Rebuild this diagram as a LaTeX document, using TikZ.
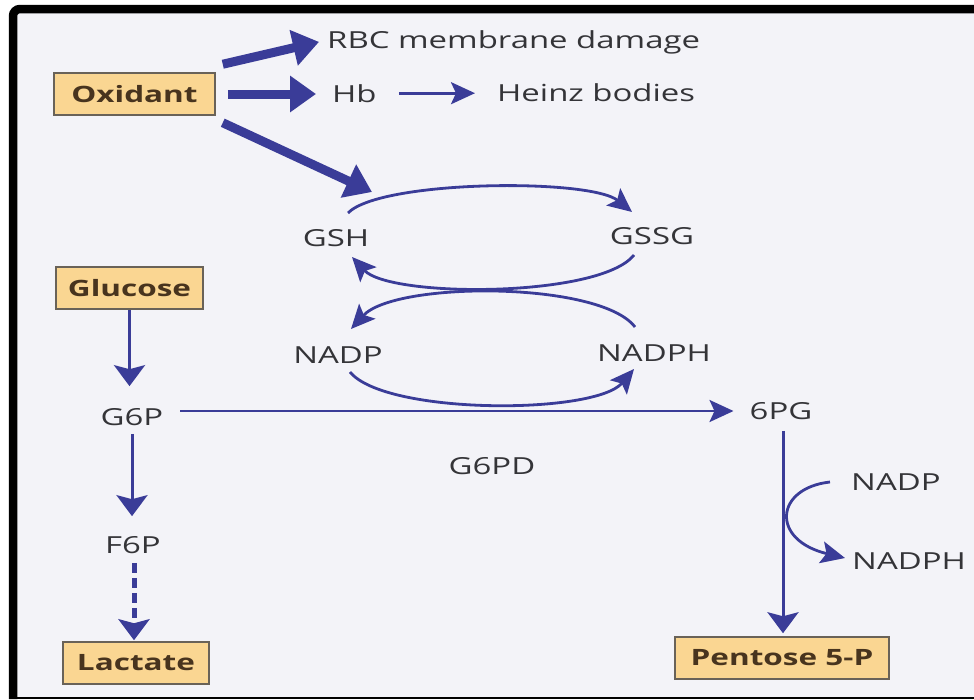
\documentclass[tikz,border=0pt]{standalone}
\usepackage{fontspec}
\setmainfont[FakeStretch=1.4]{Open Sans}
\usetikzlibrary{arrows.meta,calc}
\definecolor{navy}{RGB}{58,60,152}
\definecolor{boxfill}{RGB}{250,214,146}
\definecolor{boxline}{RGB}{105,98,88}
\definecolor{ink}{RGB}{52,52,56}
\definecolor{boxink}{RGB}{72,52,30}
\definecolor{paper}{RGB}{243,243,248}
\begin{document}
\begin{tikzpicture}[x=1pt,y=-1pt,
  lbl/.style={inner sep=0pt, text=ink, font=\fontsize{23.5}{28}\selectfont},
  boxnode/.style={draw=boxline, line width=1.5pt, fill=boxfill, text=boxink,
    font=\fontsize{22.5}{26}\selectfont\bfseries, minimum height=42pt, inner sep=0pt},
  bigarrow/.style={draw=navy, line width=9pt, -{Triangle[length=26pt,width=35pt]}},
  thinarrow/.style={draw=navy, line width=2.8pt, -{Stealth[length=24pt,width=22pt,inset=5pt]}},
  vertarrow/.style={draw=navy, line width=3pt, -{Stealth[length=21pt,width=31pt,inset=4pt]}},
  dasharrow/.style={draw=navy, line width=5pt, dash pattern=on 10pt off 5pt,
    -{Stealth[length=21pt,width=31pt,inset=4pt]}},
]
\useasboundingbox (0,0) rectangle (974,699);
% page and frame
\fill[white] (0,0) rectangle (974,699);
\fill[paper] (13,9) rectangle (974,697);
\draw[line width=8.5pt, rounded corners=7pt] (974,9) -- (13,9) -- (13,699);
\draw[line width=2pt] (13,697.5) -- (974,697.5);

% boxed metabolites
\node[boxnode, minimum width=161pt] (oxidant) at (134.5,94) {Oxidant};
\node[boxnode, minimum width=147pt] (glucose) at (129.5,288) {Glucose};
\node[boxnode, minimum width=146pt] (lactate) at (136,663) {Lactate};
\node[boxnode, minimum width=214pt] (pentose) at (782,658) {Pentose 5-P};

% plain labels
\node[lbl, anchor=base west] (rbc) at (327,48) {RBC membrane damage};
\node[lbl, anchor=base west] (hb) at (332,102) {Hb};
\node[lbl, anchor=base west] (heinz) at (497,101) {Heinz bodies};
\node[lbl] (gsh) at (336,238) {GSH};
\node[lbl] (gssg) at (652,236) {GSSG};
\node[lbl] (nadp) at (338,355) {NADP};
\node[lbl] (nadph) at (654,353) {NADPH};
\node[lbl] (g6p) at (132,417) {G6P};
\node[lbl] (pg) at (781,411) {6PG};
\node[lbl] (g6pd) at (492,466) {G6PD};
\node[lbl] (f6p) at (133,545) {F6P};
\node[lbl, anchor=west] (nadpr) at (851,482) {NADP};
\node[lbl, anchor=west] (nadphr) at (852,561) {NADPH};

% oxidant effects
\draw[bigarrow] ($(oxidant.north east)+(7,-8)$) -- ($(rbc.west)+(-8,0)$);
\draw[bigarrow] ($(oxidant.east)+(12,0)$) -- ($(oxidant.east -| hb.west)+(-16,0)$);
\draw[bigarrow] ($(oxidant.south east)+(7,7)$) -- ($(gsh)+(36,-46)$);
\draw[thinarrow] ($(hb.east)+(22,0)$) -- ($(hb.east -| heinz.west)+(-22,0)$);

% glutathione and NADP cycles
\draw[thinarrow] ($(gsh)+(12,-25)$) .. controls ($(gsh)+(44,-58)$) and ($(gssg)+(-62,-58)$) .. ($(gssg)+(-20,-24)$);
\draw[thinarrow] ($(gssg)+(-18,19)$) .. controls ($(gssg)+(-52,62)$) and ($(gsh)+(54,60)$) .. ($(gsh)+(16,19)$);
\draw[thinarrow] ($(nadph)+(-19,-26)$) .. controls ($(nadph)+(-54,-72)$) and ($(nadp)+(57,-74)$) .. ($(nadp)+(13,-26)$);
\draw[thinarrow] ($(nadp)+(12,17)$) .. controls ($(nadp)+(47,60)$) and ($(nadph)+(-59,62)$) .. ($(nadph)+(-20,16)$);

% glycolysis and pentose phosphate pathway
\draw[vertarrow] (glucose.south) -- ($(glucose.south |- g6p.north)+(0,-22)$);
\draw[vertarrow] ($(g6p.south)+(0,8)$) -- ($(g6p.south |- f6p.north)+(0,-20)$);
\draw[dasharrow] ($(f6p.south)+(1,9)$) -- ($(f6p.south |- lactate.north)+(1,-1)$);
\draw[thinarrow] ($(g6p.east |- pg.west)+(17,0)$) -- ($(pg.west)+(-16,0)$);
\draw[vertarrow] ($(pg.south)+(2,11)$) -- ($(pg.south |- pentose.north)+(2,-3)$);
\draw[thinarrow] ($(nadpr.west)+(-21,0)$) .. controls ($(nadpr.west)+(-76,6)$) and ($(nadphr.west)+(-82,-21)$) .. ($(nadphr.west)+(-7,-3)$);
\end{tikzpicture}
\end{document}
